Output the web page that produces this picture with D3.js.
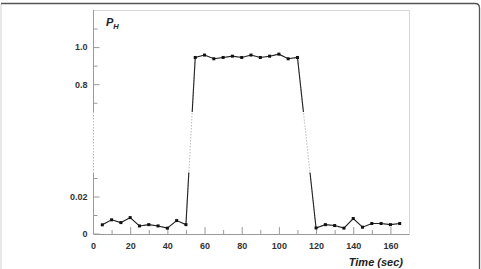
<!DOCTYPE html>
<html>
<head>
<meta charset="utf-8">
<script src="https://cdn.jsdelivr.net/npm/d3@7/dist/d3.min.js"></script>
<style>
  body { margin: 0; background: #fff; }
  svg { display: block; font-family: "Liberation Sans", Arial, sans-serif; }
</style>
</head>
<body>
<div id="chart"></div>
<script>
// time points (sec) and hydrogen probability P_H
var times = [5, 10, 15, 20, 25, 30, 35, 40, 45, 50,
             55, 60, 65, 70, 75, 80, 85, 90, 95, 100, 105, 110,
             120, 125, 130, 135, 140, 145, 150, 155, 160, 165];
var values = [0.0047, 0.0074, 0.0059, 0.0086, 0.0041, 0.0048, 0.0041, 0.0029, 0.0070, 0.0048,
              0.944, 0.957, 0.937, 0.944, 0.951, 0.944, 0.957, 0.944, 0.951, 0.962, 0.937, 0.944,
              0.0030, 0.0048, 0.0043, 0.0029, 0.0081, 0.0034, 0.0054, 0.0054, 0.0048, 0.0054];

var xMajorTicks = [0, 20, 40, 60, 80, 100, 120, 140, 160];
var xMinorTicks = [10, 30, 50, 70, 90, 110, 130, 150];
var lowMajorTicks = [0, 0.02];
var lowMinorTicks = [0.01, 0.03];
var highMajorTicks = [0.8, 1.0];
var highMinorTicks = [0.7, 0.9, 1.1];

var W = 481, H = 269;
var svg = d3.select("#chart").append("svg").attr("width", W).attr("height", H);

// panel frame
svg.append("line").attr("x1", 1).attr("y1", 4).attr("x2", 1).attr("y2", H)
  .attr("stroke", "#d0d0d0").attr("stroke-width", 1);
svg.append("path")
  .attr("d", "M1,3.5 L475,3.5 Q479.5,3.5 479.5,8 L479.5," + H)
  .attr("fill", "none").attr("stroke", "#555").attr("stroke-width", 1.3);

var x = d3.scaleLinear().domain([0, 170]).range([93, 409]);
var yLow = d3.scaleLinear().domain([0, 0.033]).range([233.5, 172.5]);
var yHigh = d3.scaleLinear().domain([0.65, 1.2]).range([112, 10]);
function sy(v) { return v < 0.5 ? yLow(v) : yHigh(v); }

var axisColor = "#9a9a9a";
var textColor = "#333";

// plot frame (top and right)
svg.append("line").attr("x1", x(0)).attr("x2", x(170)).attr("y1", yHigh(1.2) + 0.5).attr("y2", yHigh(1.2) + 0.5)
  .attr("stroke", "#d8d8d8");
svg.append("line").attr("x1", x(170) + 0.5).attr("x2", x(170) + 0.5).attr("y1", yHigh(1.2)).attr("y2", yLow(0))
  .attr("stroke", "#d8d8d8");

// y axis: solid in both bands, dotted across the break
var yAxisX = x(0) + 0.5;
svg.append("line").attr("x1", yAxisX).attr("x2", yAxisX).attr("y1", yHigh(1.2)).attr("y2", yHigh(0.65))
  .attr("stroke", axisColor);
svg.append("line").attr("x1", yAxisX).attr("x2", yAxisX).attr("y1", yLow(0.033)).attr("y2", yLow(0))
  .attr("stroke", axisColor);
svg.append("line").attr("x1", yAxisX).attr("x2", yAxisX).attr("y1", yHigh(0.65)).attr("y2", yLow(0.033))
  .attr("stroke", "#bbb").attr("stroke-dasharray", "1.5,1.5");

function yTicks(scale, major, minor, fmt) {
  var gMaj = svg.append("g").attr("transform", "translate(" + yAxisX + ",0)")
    .call(d3.axisLeft(scale).tickValues(major).tickSizeInner(-6).tickSizeOuter(0).tickPadding(6).tickFormat(fmt));
  var gMin = svg.append("g").attr("transform", "translate(" + yAxisX + ",0)")
    .call(d3.axisLeft(scale).tickValues(minor).tickSizeInner(-4).tickSizeOuter(0).tickFormat(""));
  [gMaj, gMin].forEach(function (g) {
    g.select(".domain").remove();
    g.selectAll("line").attr("stroke", axisColor);
    g.selectAll("text").attr("fill", textColor).style("font-size", "9px").style("font-weight", "bold");
  });
}
yTicks(yLow, lowMajorTicks, lowMinorTicks, function (d) { return d === 0 ? "0" : d3.format(".2f")(d); });
yTicks(yHigh, highMajorTicks, highMinorTicks, d3.format(".1f"));

// x axis
var gx = svg.append("g").attr("transform", "translate(0," + (yLow(0) + 0.5) + ")")
  .call(d3.axisBottom(x).tickValues(xMajorTicks).tickSizeInner(-7).tickSizeOuter(0).tickPadding(9));
var gxm = svg.append("g").attr("transform", "translate(0," + (yLow(0) + 0.5) + ")")
  .call(d3.axisBottom(x).tickValues(xMinorTicks).tickSizeInner(-4).tickSizeOuter(0).tickFormat(""));
gxm.select(".domain").remove();
gx.select(".domain").attr("stroke", axisColor);
[gx, gxm].forEach(function (g) { g.selectAll("line").attr("stroke", axisColor); });
gx.selectAll("text").attr("fill", textColor).style("font-size", "9px").style("font-weight", "bold");

// axis titles
var ph = svg.append("text").attr("x", 106).attr("y", 26).attr("fill", "#222")
  .style("font-size", "11px").style("font-weight", "bold").style("font-style", "italic");
ph.append("tspan").text("P");
ph.append("tspan").attr("dy", 2.5).style("font-size", "7.5px").text("H");

svg.append("text").attr("x", 403).attr("y", 266).attr("text-anchor", "end").attr("fill", "#222")
  .style("font-size", "11px").style("font-weight", "bold").style("font-style", "italic")
  .text("Time (sec)");

// data line: dotted across the axis break, solid inside the bands
var pts = times.map(function (t, i) { return [x(t), sy(values[i])]; });
var line = d3.line();

var defs = svg.append("defs");
var clip = defs.append("clipPath").attr("id", "bands");
clip.append("rect").attr("x", 0).attr("y", 0).attr("width", W).attr("height", yHigh(0.65));
clip.append("rect").attr("x", 0).attr("y", yLow(0.033)).attr("width", W).attr("height", H - yLow(0.033));

svg.append("path").attr("d", line(pts)).attr("fill", "none")
  .attr("stroke", "#bbb").attr("stroke-width", 1).attr("stroke-dasharray", "1.5,1.5");
svg.append("path").attr("d", line(pts)).attr("fill", "none").attr("clip-path", "url(#bands)")
  .attr("stroke", "#222").attr("stroke-width", 1.1);

svg.selectAll("rect.pt").data(pts).enter().append("rect").attr("class", "pt")
  .attr("x", function (d) { return d[0] - 1.5; })
  .attr("y", function (d) { return d[1] - 1.5; })
  .attr("width", 3).attr("height", 3).attr("fill", "#111");
</script>
</body>
</html>
